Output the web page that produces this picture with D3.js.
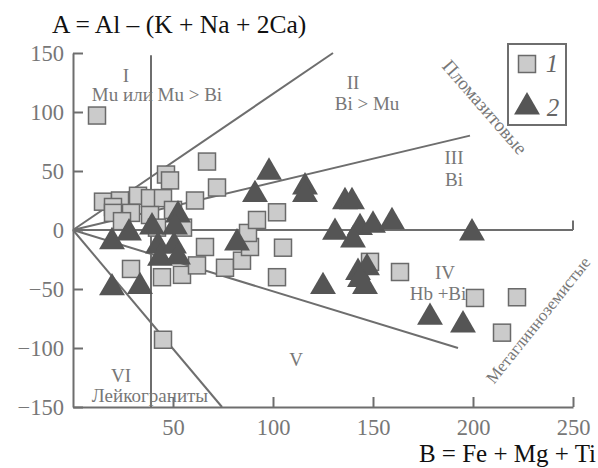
<!DOCTYPE html>
<html>
<head>
<meta charset="utf-8">
<script src="https://cdn.jsdelivr.net/npm/d3@7"></script>
<style>
 body { margin: 0; background: #fff; }
 text { font-family: "Liberation Serif", "Times New Roman", serif; }
</style>
</head>
<body>
<svg width="598" height="468"></svg>
<script>
// data: B = Fe+Mg+Ti, A = Al-(K+Na+2Ca)
var squaresB = [12, 67, 46.5, 48.5, 72, 61, 15, 23.5, 32.5, 20, 20, 29, 24.5, 38.5, 45, 50, 38.5, 42, 55,
  66, 29, 44.5, 54.5, 62, 76, 84.5, 88.5, 87.5, 92, 102, 105, 102, 45, 148.5, 163.5, 201, 222, 214.5];
var squaresA = [97, 58, 47, 42, 36, 25, 24, 25, 29, 19.5, 14.5, 14.5, 7.5, 27, 27, 17, 12.7, 2, 2,
  -14.4, -33, -40, -38, -30, -32, -26, -14.4, -2.5, 8.5, 15, -15, -40, -93, -27, -35.6, -57.6, -57, -87];

var trianglesB = [19.5, 28, 39.5, 52.5, 51, 42.5, 50.5, 43.5, 52.5, 19.5, 33.5, 82, 98, 91, 116, 116,
  136, 139.5, 131, 143.5, 150, 159.5, 140, 199.5, 142.5, 147, 146, 143.5, 125, 178.5, 195];
var trianglesA = [-10, -2.5, 2.5, 12.7, 2.5, -13.5, -13.5, -24, -23, -49, -48, -11, 49, 30, 36.5, 30,
  24, 24, -2, 2, 4, 7, -8.5, -2.5, -36, -32, -48, -42, -48, -74, -80.5];

// field boundaries [B0, A0, B1, A1]
var boundaries = [
  [0, 0, 130, 150],
  [0, 0, 198.5, 80],
  [0, 0, 250, 0],
  [250, 0, 250, 8],
  [0, 0, 192.5, -100],
  [0, 0, 74.5, -150],
  [39, 148, 39, -150]
];

var xTicks = [50, 100, 150, 200, 250];
var yTicks = [-150, -100, -50, 0, 50, 100, 150];

var svg = d3.select("svg");
var gray = "#6e6e6e";

var x = d3.scaleLinear().domain([0, 250]).range([73, 573]);
var y = d3.scaleLinear().domain([-150, 150]).range([407, 53]);

// axes
var yAxis = d3.axisLeft(y).tickValues(yTicks).tickSizeInner(-10).tickSizeOuter(0).tickPadding(9)
  .tickFormat(function (d) { return d < 0 ? "\u2212" + Math.abs(d) : d; });
var xAxis = d3.axisBottom(x).tickValues(xTicks).tickSizeInner(-10).tickSizeOuter(0).tickPadding(12);

var gy = svg.append("g").attr("transform", "translate(73,0)").call(yAxis);
var gx = svg.append("g").attr("transform", "translate(0,407)").call(xAxis);
[gx, gy].forEach(function (g) {
  g.select(".domain").attr("stroke", gray).attr("stroke-width", 2);
  g.selectAll(".tick line").attr("stroke", gray).attr("stroke-width", 2);
  g.selectAll(".tick text").attr("fill", "#777").style("font-size", "22.5px")
    .style("font-family", "'Liberation Serif', serif");
});

// boundary lines
svg.append("g").selectAll("line")
  .data(boundaries)
  .enter().append("line")
  .attr("x1", function (d) { return x(d[0]); })
  .attr("y1", function (d) { return y(d[1]); })
  .attr("x2", function (d) { return x(d[2]); })
  .attr("y2", function (d) { return y(d[3]); })
  .attr("stroke", gray)
  .attr("stroke-width", 2);

// squares (1)
var sq = 17;
svg.append("g").selectAll("rect")
  .data(d3.range(squaresB.length))
  .enter().append("rect")
  .attr("x", function (i) { return x(squaresB[i]) - sq / 2; })
  .attr("y", function (i) { return y(squaresA[i]) - sq / 2; })
  .attr("width", sq)
  .attr("height", sq)
  .attr("fill", "#cbcbcb")
  .attr("stroke", "#6a6a6a")
  .attr("stroke-width", 1.5);

// triangles (2)
var tri = d3.symbol().type(d3.symbolTriangle).size(290);
svg.append("g").selectAll("path")
  .data(d3.range(trianglesB.length))
  .enter().append("path")
  .attr("d", tri)
  .attr("transform", function (i) { return "translate(" + x(trianglesB[i]) + "," + y(trianglesA[i]) + ")"; })
  .attr("fill", "#555");

// field labels
var labels = [
  ["I", 126, 82], ["Mu или Mu > Bi", 157, 101],
  ["II", 353, 89], ["Bi > Mu", 367, 110],
  ["III", 454, 164], ["Bi", 454, 186],
  ["IV", 445, 279], ["Hb +Bi", 438, 300],
  ["V", 296, 366],
  ["VI", 121, 382], ["Лейкограниты", 150, 402]
];
svg.append("g").selectAll("text")
  .data(labels)
  .enter().append("text")
  .attr("x", function (d) { return d[1]; })
  .attr("y", function (d) { return d[2]; })
  .attr("text-anchor", "middle")
  .attr("fill", "#777")
  .style("font-size", "19px")
  .text(function (d) { return d[0]; });

svg.append("text")
  .attr("transform", "translate(485,107) rotate(49)")
  .attr("text-anchor", "middle").attr("dy", "0.35em")
  .attr("fill", "#777").style("font-size", "19px")
  .text("Пломазитовые");
svg.append("text")
  .attr("transform", "translate(538,320) rotate(-51.5)")
  .attr("text-anchor", "middle").attr("dy", "0.35em")
  .attr("fill", "#777").style("font-size", "17px")
  .text("Метаглинноземистые");

// axis titles
svg.append("text").attr("x", 52).attr("y", 33)
  .style("font-size", "25.5px").attr("fill", "#111")
  .text("A = Al – (K + Na + 2Ca)");
svg.append("text").attr("x", 596).attr("y", 462).attr("text-anchor", "end")
  .style("font-size", "25px").attr("fill", "#111")
  .text("B = Fe + Mg + Ti");

// legend
var lg = svg.append("g");
lg.append("rect").attr("x", 508).attr("y", 44).attr("width", 58).attr("height", 81)
  .attr("fill", "none").attr("stroke", gray).attr("stroke-width", 2);
lg.append("rect").attr("x", 527 - sq / 2).attr("y", 64 - sq / 2).attr("width", sq).attr("height", sq)
  .attr("fill", "#cbcbcb").attr("stroke", "#6a6a6a").attr("stroke-width", 1.5);
lg.append("path").attr("d", tri).attr("transform", "translate(527,107)").attr("fill", "#555");
lg.append("text").attr("x", 552).attr("y", 72).attr("text-anchor", "middle")
  .style("font-size", "25px").style("font-style", "italic").attr("fill", "#666").text("1");
lg.append("text").attr("x", 553).attr("y", 116).attr("text-anchor", "middle")
  .style("font-size", "25px").style("font-style", "italic").attr("fill", "#666").text("2");
</script>
</body>
</html>
